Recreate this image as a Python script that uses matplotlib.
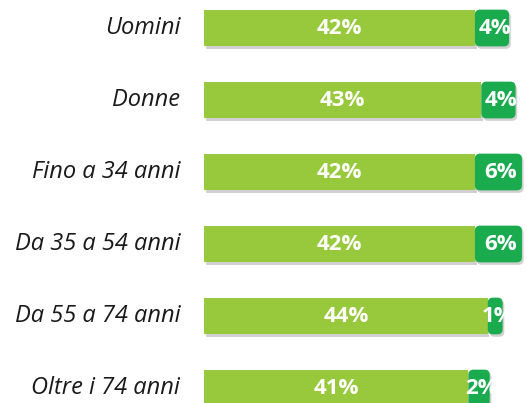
import matplotlib
matplotlib.use("Agg")
import matplotlib.pyplot as plt
import matplotlib.patheffects as pe
from matplotlib.patches import FancyBboxPatch

categories = ["Uomini", "Donne", "Fino a 34 anni", "Da 35 a 54 anni", "Da 55 a 74 anni", "Oltre i 74 anni"]
light_vals = [42, 43, 42, 42, 44, 41]
dark_vals = [4, 4, 6, 6, 1, 2]

LIGHT = "#98c93c"
DARK = "#1aab4e"
FONT = "Open Sans"

W, H = 527, 403
fig = plt.figure(figsize=(W / 100, H / 100), dpi=100)
# axes extends past the bottom edge: the last bar is cut off in the reference
ax = fig.add_axes([204 / W, 1 - 424 / H, 322.5 / W, 432 / H])
ax.set_xlim(0, 50)
ax.set_ylim(len(categories) - 0.5, -0.5)
ax.axis("off")

bar_h = 0.51
shadow = [pe.SimplePatchShadow(offset=(1.2, -1.8), shadow_rgbFace="#666666", alpha=0.3), pe.Normal()]
x_px = 322.5 / 50
y_px = 432 / len(categories)
aspect = x_px / y_px

for i, (cat, lv, dv) in enumerate(zip(categories, light_vals, dark_vals)):
    bar = ax.barh(i, lv, height=bar_h, color=LIGHT, zorder=2)[0]
    bar.set_path_effects(shadow)
    # darker segment: rounded box sitting on the end of the light bar
    dw = dv + 1.3
    box = FancyBboxPatch((lv, i - bar_h / 2), dw, bar_h,
                         boxstyle="round,pad=0,rounding_size=0.8",
                         mutation_aspect=aspect, facecolor=DARK, edgecolor="none", zorder=3)
    box.set_path_effects(shadow)
    ax.add_patch(box)
    ax.text(lv / 2, i, f"{lv}%", ha="center", va="center", color="white",
            fontsize=16, fontweight="bold", family=FONT, zorder=4)
    ax.text(lv + dw / 2 + 0.4, i, f"{dv}%", ha="center", va="center", color="white",
            fontsize=16, fontweight="bold", family=FONT, zorder=4)
    ax.text(-3.7, i, cat, ha="right", va="center", color="#1a1a1a",
            fontsize=17, style="italic", family=FONT)

fig.savefig("out.png", dpi=100)
